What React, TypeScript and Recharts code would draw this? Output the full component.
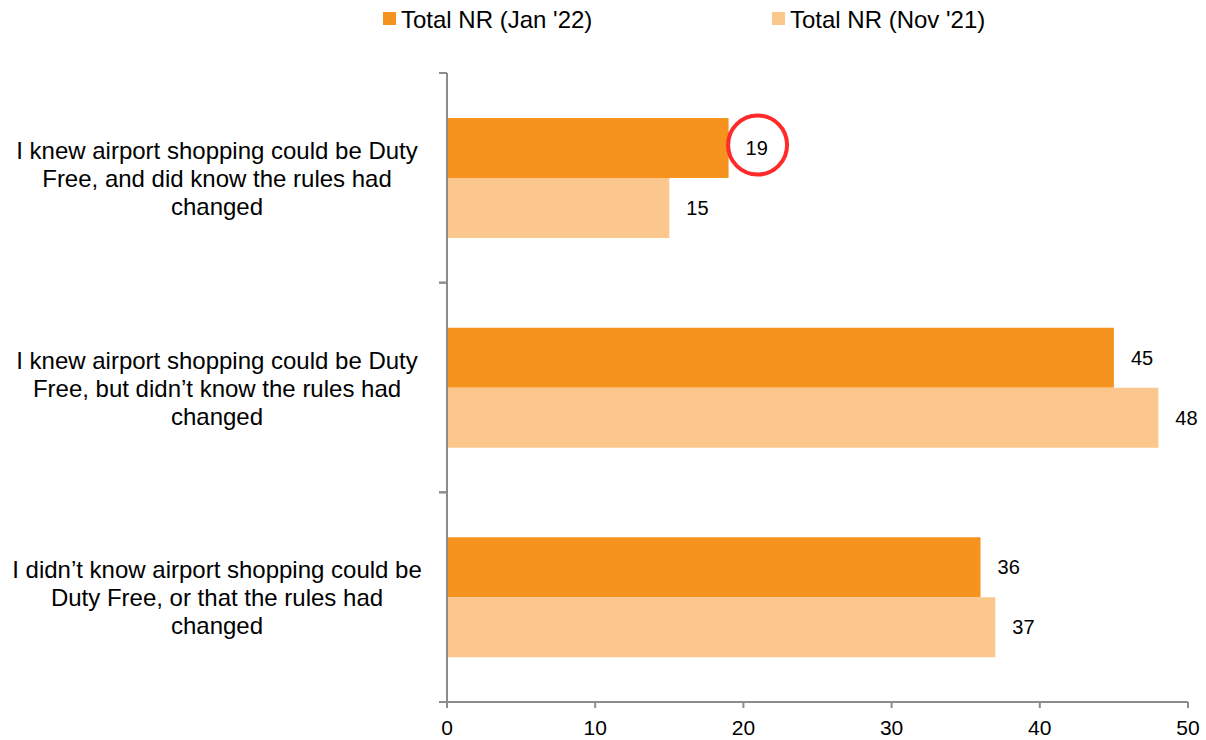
import React from 'react';
import { BarChart, Bar, XAxis, YAxis, LabelList } from 'recharts';

const categories = [
  "I knew airport shopping could be Duty Free, and did know the rules had changed",
  "I knew airport shopping could be Duty Free, but didn’t know the rules had changed",
  "I didn’t know airport shopping could be Duty Free, or that the rules had changed",
];
const categoryLines = [
  ["I knew airport shopping could be Duty", "Free, and did know the rules had", "changed"],
  ["I knew airport shopping could be Duty", "Free, but didn’t know the rules had", "changed"],
  ["I didn’t know airport shopping could be", "Duty Free, or that the rules had", "changed"],
];
const jan22 = [19, 45, 36];
const nov21 = [15, 48, 37];
const xTicks = [0, 10, 20, 30, 40, 50];
const seriesNames = ["Total NR (Jan '22)", "Total NR (Nov '21)"];
const highlightedJanIndex = 0;

const COLOR_JAN = '#F6931F';
const COLOR_NOV = '#FBC78D';
const AXIS = '#8C8C8C';
const FONT = '"Liberation Sans", Arial, sans-serif';

const data = categories.map((c, i) => ({ category: c, jan: jan22[i], nov: nov21[i] }));

const YTick = (props: any) => {
  const { x, y, payload } = props;
  const half = payload && payload.offset ? payload.offset : 104.8;
  const idx = categories.indexOf(payload.value);
  const lines = idx >= 0 ? categoryLines[idx] : [String(payload.value)];
  const lh = 28;
  const startY = y - ((lines.length - 1) * lh) / 2;
  const cx = x - 222;
  return (
    <g>
      <line x1={x} x2={x + 8} y1={y - half} y2={y - half} stroke={AXIS} strokeWidth={2} />
      <line x1={x} x2={x + 8} y1={y + half} y2={y + half} stroke={AXIS} strokeWidth={2} />
      <text textAnchor="middle" fontSize={24} fill="#000" fontFamily={FONT} dominantBaseline="central">
        {lines.map((l, i) => (
          <tspan key={i} x={cx} y={startY + i * lh}>{l}</tspan>
        ))}
      </text>
    </g>
  );
};

const makeLabel = (highlight: number) => (props: any) => {
  const { x, y, width, height, value, index } = props;
  const tx = x + width + 17;
  const ty = y + height / 2;
  return (
    <g>
      <text x={tx} y={ty} fontSize={20} fill="#000" fontFamily={FONT} dominantBaseline="central">
        {value}
      </text>
      {index === highlight ? (
        <circle cx={tx + 12} cy={ty - 3} r={29.5} fill="none" stroke="#FF2B2B" strokeWidth={4} />
      ) : null}
    </g>
  );
};

export default function App() {
  return (
    <div style={{ position: 'absolute', left: 0, top: 0, width: 1206, height: 740, background: '#fff', fontFamily: FONT }}>
      <div style={{ position: 'absolute', left: 383, top: 12, width: 13, height: 13, background: COLOR_JAN }} />
      <div style={{ position: 'absolute', left: 401, top: 6, fontSize: 24, lineHeight: '28px', color: '#000', whiteSpace: 'nowrap' }}>{seriesNames[0]}</div>
      <div style={{ position: 'absolute', left: 772, top: 12, width: 13, height: 13, background: COLOR_NOV }} />
      <div style={{ position: 'absolute', left: 790, top: 6, fontSize: 24, lineHeight: '28px', color: '#000', whiteSpace: 'nowrap' }}>{seriesNames[1]}</div>
      <BarChart
        width={1206}
        height={740}
        data={data}
        layout="vertical"
        margin={{ top: 73, right: 18, left: 0, bottom: 0 }}
        barCategoryGap={45}
        barGap={0}
      >
        <XAxis
          type="number"
          domain={[0, 50]}
          ticks={xTicks}
          interval={0}
          height={38}
          tickSize={6}
          tickMargin={12}
          axisLine={{ stroke: AXIS, strokeWidth: 2 }}
          tickLine={{ stroke: AXIS, strokeWidth: 2 }}
          tick={{ fontSize: 21, fill: '#000', fontFamily: FONT }}
        />
        <YAxis
          type="category"
          dataKey="category"
          width={447}
          tickSize={8}
          tickMargin={0}
          tickLine={false}
          axisLine={{ stroke: AXIS, strokeWidth: 2 }}
          tick={<YTick />}
          interval={0}
        />
        <Bar dataKey="jan" name={seriesNames[0]} fill={COLOR_JAN} barSize={60} isAnimationActive={false}>
          <LabelList dataKey="jan" content={makeLabel(highlightedJanIndex)} />
        </Bar>
        <Bar dataKey="nov" name={seriesNames[1]} fill={COLOR_NOV} barSize={60} isAnimationActive={false}>
          <LabelList dataKey="nov" content={makeLabel(-1)} />
        </Bar>
      </BarChart>
    </div>
  );
}
